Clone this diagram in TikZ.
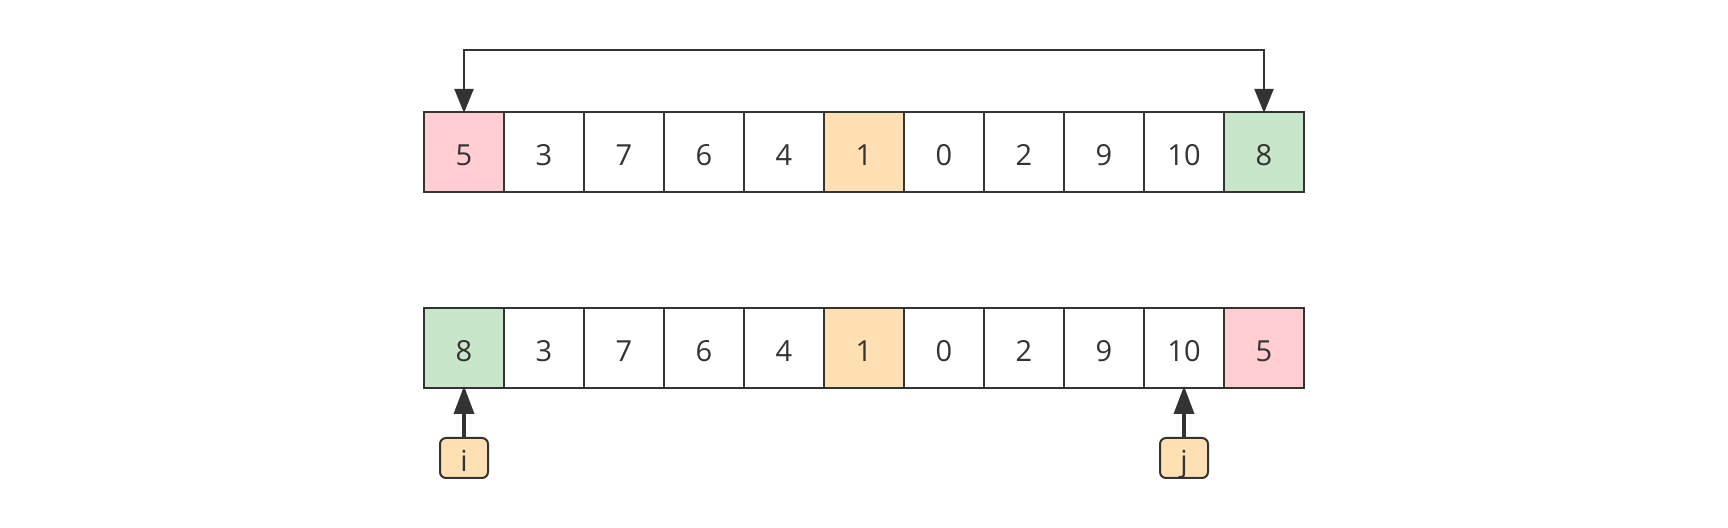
\documentclass[tikz,border=0pt]{standalone}
\usepackage{fontspec}
\setmainfont{Open Sans}
\usetikzlibrary{arrows.meta}
\definecolor{ink}{HTML}{333333}
\definecolor{pinkf}{HTML}{FFCDD2}
\definecolor{greenf}{HTML}{C8E6C9}
\definecolor{orangef}{HTML}{FFE0B2}
\begin{document}
\begin{tikzpicture}[x=0.5pt,y=-0.5pt,
  cell/.style={draw=ink,line width=1pt,minimum size=40pt,inner sep=0pt,text=ink,text height=14pt,text depth=0pt,font=\fontsize{14.5}{16}\selectfont},
  ptr/.style={draw=ink,line width=1pt,rounded corners=3pt,fill=orangef,minimum width=24pt,minimum height=20pt,inner sep=0pt,text=ink,text height=14pt,text depth=0pt,font=\fontsize{14.5}{16}\selectfont},
  swapline/.style={draw=ink,line width=1pt,{Triangle[width=9.5pt,length=12pt]}-{Triangle[width=9.5pt,length=12pt]}},
  ptrline/.style={draw=ink,line width=1.75pt,-{Triangle[width=10pt,length=14pt]}}
]
\useasboundingbox (0,0) rectangle (1728,528);
\foreach \v/\f [count=\k from 0] in {5/pinkf,3/white,7/white,6/white,4/white,1/orangef,0/white,2/white,9/white,10/white,8/greenf}
  \node[cell,fill=\f] (a\k) at ({464+80*\k},152) {\v};
\foreach \v/\f [count=\k from 0] in {8/greenf,3/white,7/white,6/white,4/white,1/orangef,0/white,2/white,9/white,10/white,5/pinkf}
  \node[cell,fill=\f] (b\k) at ({464+80*\k},348) {\v};
\coordinate (topline) at (0,50);
\draw[swapline] ([yshift=-1pt]a0.north) -- (a0.north |- topline) -- (a10.north |- topline) -- ([yshift=-1pt]a10.north);
\node[ptr] (pi) at (464,458) {i};
\node[ptr] (pj) at (1184,458) {j};
\draw[ptrline] (pi.north) -- ([yshift=1.5pt]b0.south);
\draw[ptrline] (pj.north) -- ([yshift=1.5pt]b9.south);
\end{tikzpicture}
\end{document}
